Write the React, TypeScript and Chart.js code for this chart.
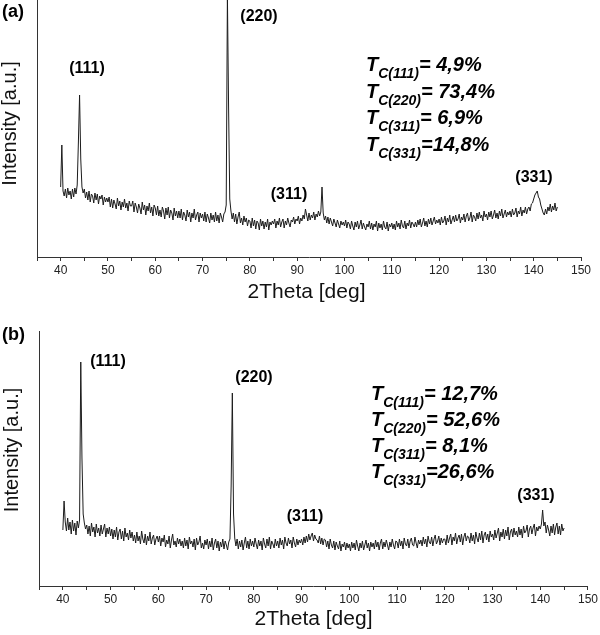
import React, { useEffect, useRef } from 'react';
import { Chart, registerables } from 'chart.js';

Chart.register(...registerables);

// 2θ sampling grid (deg)
const twoTheta = [
  40, 40.25, 40.5, 40.75, 41, 41.25, 41.5, 41.75, 42, 42.25, 42.5, 42.75, 43, 43.25, 43.5, 43.75, 44, 44.25, 44.5, 44.75,
  45, 45.25, 45.5, 45.75, 46, 46.25, 46.5, 46.75, 47, 47.25, 47.5, 47.75, 48, 48.25, 48.5, 48.75, 49, 49.25, 49.5, 49.75,
  50, 50.25, 50.5, 50.75, 51, 51.25, 51.5, 51.75, 52, 52.25, 52.5, 52.75, 53, 53.25, 53.5, 53.75, 54, 54.25, 54.5, 54.75,
  55, 55.25, 55.5, 55.75, 56, 56.25, 56.5, 56.75, 57, 57.25, 57.5, 57.75, 58, 58.25, 58.5, 58.75, 59, 59.25, 59.5, 59.75,
  60, 60.25, 60.5, 60.75, 61, 61.25, 61.5, 61.75, 62, 62.25, 62.5, 62.75, 63, 63.25, 63.5, 63.75, 64, 64.25, 64.5, 64.75,
  65, 65.25, 65.5, 65.75, 66, 66.25, 66.5, 66.75, 67, 67.25, 67.5, 67.75, 68, 68.25, 68.5, 68.75, 69, 69.25, 69.5, 69.75,
  70, 70.25, 70.5, 70.75, 71, 71.25, 71.5, 71.75, 72, 72.25, 72.5, 72.75, 73, 73.25, 73.5, 73.75, 74, 74.25, 74.5, 74.75,
  75, 75.25, 75.5, 75.75, 76, 76.25, 76.5, 76.75, 77, 77.25, 77.5, 77.75, 78, 78.25, 78.5, 78.75, 79, 79.25, 79.5, 79.75,
  80, 80.25, 80.5, 80.75, 81, 81.25, 81.5, 81.75, 82, 82.25, 82.5, 82.75, 83, 83.25, 83.5, 83.75, 84, 84.25, 84.5, 84.75,
  85, 85.25, 85.5, 85.75, 86, 86.25, 86.5, 86.75, 87, 87.25, 87.5, 87.75, 88, 88.25, 88.5, 88.75, 89, 89.25, 89.5, 89.75,
  90, 90.25, 90.5, 90.75, 91, 91.25, 91.5, 91.75, 92, 92.25, 92.5, 92.75, 93, 93.25, 93.5, 93.75, 94, 94.25, 94.5, 94.75,
  95, 95.25, 95.5, 95.75, 96, 96.25, 96.5, 96.75, 97, 97.25, 97.5, 97.75, 98, 98.25, 98.5, 98.75, 99, 99.25, 99.5, 99.75,
  100, 100.25, 100.5, 100.75, 101, 101.25, 101.5, 101.75, 102, 102.25, 102.5, 102.75, 103, 103.25, 103.5, 103.75, 104, 104.25, 104.5, 104.75,
  105, 105.25, 105.5, 105.75, 106, 106.25, 106.5, 106.75, 107, 107.25, 107.5, 107.75, 108, 108.25, 108.5, 108.75, 109, 109.25, 109.5, 109.75,
  110, 110.25, 110.5, 110.75, 111, 111.25, 111.5, 111.75, 112, 112.25, 112.5, 112.75, 113, 113.25, 113.5, 113.75, 114, 114.25, 114.5, 114.75,
  115, 115.25, 115.5, 115.75, 116, 116.25, 116.5, 116.75, 117, 117.25, 117.5, 117.75, 118, 118.25, 118.5, 118.75, 119, 119.25, 119.5, 119.75,
  120, 120.25, 120.5, 120.75, 121, 121.25, 121.5, 121.75, 122, 122.25, 122.5, 122.75, 123, 123.25, 123.5, 123.75, 124, 124.25, 124.5, 124.75,
  125, 125.25, 125.5, 125.75, 126, 126.25, 126.5, 126.75, 127, 127.25, 127.5, 127.75, 128, 128.25, 128.5, 128.75, 129, 129.25, 129.5, 129.75,
  130, 130.25, 130.5, 130.75, 131, 131.25, 131.5, 131.75, 132, 132.25, 132.5, 132.75, 133, 133.25, 133.5, 133.75, 134, 134.25, 134.5, 134.75,
  135, 135.25, 135.5, 135.75, 136, 136.25, 136.5, 136.75, 137, 137.25, 137.5, 137.75, 138, 138.25, 138.5, 138.75, 139, 139.25, 139.5, 139.75,
  140, 140.25, 140.5, 140.75, 141, 141.25, 141.5, 141.75, 142, 142.25, 142.5, 142.75, 143, 143.25, 143.5, 143.75, 144, 144.25, 144.5, 144.75,
  145,
];

// panel (a) intensity (a.u.)
const intensityA = [
  70, 112, 66, 61, 68, 59, 69, 62, 66, 58, 68, 60, 69, 63, 72, 115, 162, 98, 70, 64,
  68, 59, 65, 57, 66, 55, 63, 61, 54, 64, 57, 63, 53, 61, 58, 62, 52, 60, 55, 59,
  55, 60, 50, 58, 49, 57, 53, 48, 59, 51, 56, 47, 55, 50, 58, 49, 54, 46, 56, 51,
  51, 56, 45, 54, 50, 44, 53, 49, 43, 55, 47, 52, 42, 51, 46, 54, 44, 50, 41, 52,
  49, 42, 51, 41, 47, 40, 50, 46, 38, 49, 42, 50, 39, 47, 44, 37, 49, 41, 46, 39,
  46, 39, 48, 37, 45, 42, 36, 47, 40, 45, 35, 44, 39, 48, 37, 42, 45, 35, 44, 39,
  43, 36, 45, 35, 43, 39, 34, 44, 37, 42, 35, 45, 36, 42, 34, 44, 40, 35, 43, 45,
  52, 262, 150, 58, 46, 38, 44, 35, 43, 33, 40, 45, 34, 39, 32, 41, 35, 39, 31, 37,
  36, 29, 39, 31, 37, 28, 36, 34, 27, 38, 31, 36, 28, 35, 30, 38, 27, 35, 32, 36,
  33, 38, 29, 36, 32, 39, 30, 35, 38, 29, 36, 32, 39, 34, 30, 37, 35, 40, 33, 38,
  36, 41, 33, 39, 36, 42, 38, 48, 42, 36, 44, 37, 42, 39, 45, 37, 43, 40, 46, 41,
  45, 70, 44, 37, 41, 34, 40, 33, 39, 35, 31, 38, 34, 30, 37, 33, 29, 36, 32, 35,
  31, 37, 29, 35, 33, 28, 36, 31, 27, 35, 30, 36, 28, 32, 37, 28, 34, 30, 27, 33,
  30, 36, 28, 34, 27, 33, 30, 36, 26, 34, 29, 33, 27, 36, 30, 28, 35, 26, 33, 30,
  34, 28, 33, 27, 36, 30, 34, 28, 37, 31, 29, 36, 28, 34, 31, 37, 29, 35, 33, 30,
  35, 30, 37, 32, 38, 30, 34, 39, 31, 36, 30, 38, 33, 39, 32, 36, 40, 33, 37, 34,
  38, 32, 40, 34, 36, 41, 32, 39, 35, 42, 33, 37, 41, 35, 42, 36, 38, 43, 34, 40,
  37, 43, 35, 41, 44, 36, 39, 45, 35, 42, 40, 36, 44, 38, 45, 39, 42, 36, 46, 40,
  43, 37, 45, 40, 46, 38, 42, 47, 39, 44, 38, 46, 41, 48, 39, 43, 47, 40, 45, 42,
  46, 40, 48, 42, 44, 49, 40, 46, 43, 50, 41, 47, 44, 50, 43, 48, 50, 46, 53, 54,
  58, 62, 64, 66, 60, 58, 52, 48, 44, 42, 48, 43, 50, 46, 53, 45, 51, 47, 54, 46,
  50,
];

// panel (b) intensity (a.u.)
const intensityB = [
  56, 85, 64, 55, 68, 56, 64, 52, 66, 55, 63, 51, 65, 58, 66, 224, 128, 72, 63, 57,
  61, 52, 60, 50, 63, 54, 59, 49, 62, 53, 58, 50, 61, 52, 57, 62, 49, 58, 52, 59,
  50, 57, 47, 56, 49, 59, 46, 54, 57, 47, 55, 45, 58, 49, 53, 46, 56, 48, 54, 45,
  51, 43, 54, 45, 50, 42, 55, 47, 43, 52, 41, 50, 45, 54, 42, 48, 51, 41, 47, 50,
  44, 50, 40, 48, 44, 51, 39, 46, 42, 50, 38, 46, 52, 41, 45, 39, 48, 42, 47, 40,
  45, 38, 48, 40, 46, 37, 49, 42, 45, 39, 47, 36, 48, 41, 44, 50, 38, 43, 37, 46,
  41, 47, 37, 45, 39, 48, 36, 43, 47, 38, 45, 35, 44, 39, 47, 37, 45, 41, 36, 44,
  47, 100, 193, 72, 48, 40, 47, 37, 45, 39, 46, 36, 43, 49, 38, 45, 37, 47, 40, 45,
  39, 48, 42, 37, 46, 40, 45, 36, 48, 42, 38, 47, 40, 49, 37, 45, 42, 38, 47, 40,
  45, 38, 48, 41, 46, 37, 49, 43, 40, 48, 42, 46, 38, 49, 43, 39, 47, 41, 46, 43,
  47, 41, 49, 43, 50, 44, 52, 46, 50, 53, 45, 51, 47, 46, 43, 50, 42, 48, 41, 47,
  46, 39, 45, 37, 47, 41, 38, 45, 36, 44, 40, 37, 45, 35, 42, 39, 44, 36, 43, 38,
  42, 35, 44, 38, 43, 36, 46, 40, 35, 43, 38, 45, 36, 41, 46, 38, 43, 35, 44, 39,
  43, 37, 46, 39, 44, 36, 43, 47, 37, 44, 39, 46, 41, 36, 44, 39, 47, 41, 37, 45,
  44, 38, 47, 40, 45, 37, 48, 42, 40, 47, 38, 45, 48, 41, 40, 49, 43, 38, 46, 42,
  46, 40, 49, 42, 47, 39, 50, 44, 42, 49, 40, 47, 51, 42, 45, 50, 41, 48, 43, 47,
  47, 41, 51, 43, 48, 52, 41, 49, 45, 53, 42, 48, 51, 44, 52, 41, 49, 53, 45, 50,
  49, 43, 53, 45, 51, 42, 54, 48, 44, 53, 46, 55, 43, 51, 54, 46, 52, 44, 55, 49,
  52, 46, 56, 48, 53, 58, 45, 54, 49, 57, 47, 56, 50, 59, 46, 54, 57, 49, 58, 51,
  55, 49, 59, 51, 57, 48, 60, 53, 55, 61, 49, 57, 60, 52, 58, 62, 50, 59, 55, 60,
  57, 62, 76, 60, 64, 53, 61, 56, 50, 60, 53, 62, 51, 59, 63, 52, 60, 51, 62, 55,
  58,
];

const tickLabels = [40, 50, 60, 70, 80, 90, 100, 110, 120, 130, 140, 150];
const peakNames = ['(111)', '(220)', '(311)', '(331)'];
const textureSubs = ['C(111)', 'C(220)', 'C(311)', 'C(331)'];
const textureA = ['= 4,9%', '= 73,4%', '= 6,9%', '=14,8%'];
const textureB = ['= 12,7%', '= 52,6%', '= 8,1%', '=26,6%'];
const xTitle = '2Theta [deg]';
const yTitle = 'Intensity [a.u.]';

const FONT = '"Liberation Sans", Arial, Helvetica, sans-serif';

type PanelOpts = {
  values: number[];
  yMax: number;
  padTop: number;
  padRight: number;
  yWidth: number;
  xHeight: number;
  tag: string;
  tagPos: [number, number];
  peakPos: [number, number][];
  texture: string[];
  texX: number;
  texBase: number[];
  xTitlePos: [number, number];
  yTitlePos: [number, number];
};

function drawOverlay(ctx: CanvasRenderingContext2D, o: PanelOpts) {
  ctx.save();
  ctx.fillStyle = '#000';
  ctx.textBaseline = 'alphabetic';
  ctx.textAlign = 'left';
  ctx.font = `bold 18px ${FONT}`;
  ctx.fillText(o.tag, o.tagPos[0], o.tagPos[1]);

  ctx.font = `bold 16px ${FONT}`;
  ctx.textAlign = 'center';
  peakNames.forEach((n, i) => ctx.fillText(n, o.peakPos[i][0], o.peakPos[i][1]));

  ctx.textAlign = 'left';
  o.texture.forEach((t, i) => {
    const y = o.texBase[i];
    let x = o.texX;
    ctx.font = `italic bold 20px ${FONT}`;
    ctx.fillText('T', x, y);
    x += ctx.measureText('T').width;
    ctx.font = `italic bold 14px ${FONT}`;
    ctx.fillText(textureSubs[i], x, y + 7);
    x += ctx.measureText(textureSubs[i]).width;
    ctx.font = `italic bold 20px ${FONT}`;
    ctx.fillText(t, x, y);
  });

  ctx.fillStyle = '#111';
  ctx.textAlign = 'center';
  ctx.textBaseline = 'middle';
  ctx.font = `21px ${FONT}`;
  ctx.fillText(xTitle, o.xTitlePos[0], o.xTitlePos[1]);
  ctx.translate(o.yTitlePos[0], o.yTitlePos[1]);
  ctx.rotate(-Math.PI / 2);
  ctx.font = `20px ${FONT}`;
  ctx.fillText(yTitle, 0, 0);
  ctx.restore();
}

function makeChart(canvas: HTMLCanvasElement, o: PanelOpts) {
  return new Chart(canvas, {
    type: 'line',
    data: {
      datasets: [
        {
          data: twoTheta.map((x, i) => ({ x, y: o.values[i] })),
          borderColor: '#1c1c1c',
          borderWidth: 1,
          pointRadius: 0,
          tension: 0,
          fill: false,
        },
      ],
    },
    options: {
      animation: false,
      responsive: false,
      maintainAspectRatio: false,
      devicePixelRatio: 1,
      events: [],
      layout: { padding: { left: 0, right: o.padRight, top: o.padTop, bottom: 0 } },
      plugins: { legend: { display: false }, tooltip: { enabled: false } },
      scales: {
        x: {
          type: 'linear',
          min: 35,
          max: 150,
          ticks: {
            stepSize: 5,
            autoSkip: false,
            maxRotation: 0,
            padding: 2,
            color: '#222',
            font: { family: FONT, size: 12 },
            callback: (v: any) => {
              const n = Number(v);
              const r = Math.round(n);
              return Math.abs(n - r) < 1e-6 && tickLabels.includes(r) ? String(r) : '';
            },
          },
          grid: { drawOnChartArea: false, drawTicks: true, tickLength: 4, color: '#333', tickColor: '#333' },
          border: { display: true, color: '#333', width: 1 },
          afterFit: (s: any) => {
            s.height = o.xHeight;
          },
        },
        y: {
          type: 'linear',
          min: 0,
          max: o.yMax,
          ticks: { display: false },
          grid: { display: false, drawTicks: false },
          border: { display: true, color: '#333', width: 1 },
          afterFit: (s: any) => {
            s.width = o.yWidth;
          },
        },
      },
    },
    plugins: [{ id: 'overlay', afterDraw: (chart: any) => drawOverlay(chart.ctx, o) }],
  } as any);
}

export default function App() {
  const refA = useRef<HTMLCanvasElement>(null);
  const refB = useRef<HTMLCanvasElement>(null);

  useEffect(() => {
    const a = makeChart(refA.current!, {
      values: intensityA,
      yMax: 257,
      padTop: 0,
      padRight: 19,
      yWidth: 37,
      xHeight: 48,
      tag: '(a)',
      tagPos: [2, 17],
      peakPos: [
        [87, 73],
        [259, 21],
        [289, 199],
        [534, 182],
      ],
      texture: textureA,
      texX: 366,
      texBase: [71, 97.7, 124.3, 151],
      xTitlePos: [306.5, 292.5],
      yTitlePos: [10.5, 123.5],
    });
    const b = makeChart(refB.current!, {
      values: intensityB,
      yMax: 255,
      padTop: 26,
      padRight: 12,
      yWidth: 39,
      xHeight: 49,
      tag: '(b)',
      tagPos: [2, 35],
      peakPos: [
        [108, 60.6],
        [254, 76.6],
        [305, 215.6],
        [536, 195],
      ],
      texture: textureB,
      texX: 371,
      texBase: [95, 121, 147, 173],
      xTitlePos: [313.5, 314],
      yTitlePos: [12, 145],
    });
    return () => {
      a.destroy();
      b.destroy();
    };
  }, []);

  return (
    <div style={{ position: 'fixed', left: 0, top: 0, width: 600, height: 635, background: '#fff' }}>
      <canvas ref={refA} width={600} height={305} style={{ display: 'block', width: 600, height: 305 }} />
      <canvas ref={refB} width={600} height={330} style={{ display: 'block', width: 600, height: 330 }} />
    </div>
  );
}
